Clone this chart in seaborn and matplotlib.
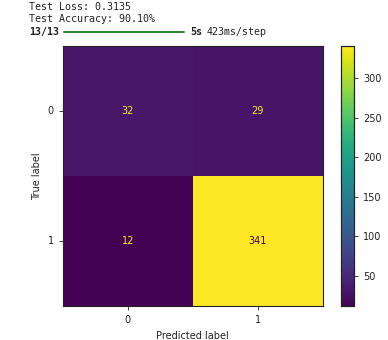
import matplotlib
matplotlib.use("Agg")
import matplotlib.pyplot as plt
from matplotlib.lines import Line2D
import seaborn as sns
import numpy as np
import pandas as pd

classes = ["0", "1"]
row0 = [32, 29]
row1 = [12, 341]
loss_text = "Test Loss: 0.3135"
acc_text = "Test Accuracy: 90.10%"
step_text = "13/13"
time_text = "5s"
rate_text = "423ms/step"
colorbar_ticks = [50, 100, 150, 200, 250, 300]

cm = np.array([row0, row1])
df = pd.DataFrame(cm, index=classes, columns=classes)

sns.set_style("white")
plt.rcParams['font.family'] = ['DejaVu Sans']

fig = plt.figure(figsize=(3.88, 3.40), dpi=100)
ax = fig.add_axes([0.162, 0.10, 0.670, 0.765])
cax = fig.add_axes([0.879, 0.10, 0.034, 0.765])

sns.heatmap(df, ax=ax, cbar_ax=cax, cmap="viridis", annot=True, fmt="d",
            vmin=cm.min(), vmax=cm.max(), square=False,
            annot_kws={"fontsize": 7})

cmap = plt.get_cmap("viridis")
thresh = (cm.max() + cm.min()) / 2.0
for t in ax.texts:
    v = int(t.get_text())
    t.set_color(cmap(1.0) if v < thresh else cmap(0.0))

for s in ax.spines.values():
    s.set_visible(True)
    s.set_color("#222222")
    s.set_linewidth(0.8)

ax.set_xlabel("Predicted label", fontsize=7, color="#222222")
ax.set_ylabel("True label", fontsize=7, color="#222222")
ax.tick_params(axis="both", which="both", length=3, width=0.6, labelsize=7,
               colors="#222222", left=True, bottom=True)
ax.set_yticklabels(classes, rotation=0)
ax.set_xticklabels(classes, rotation=0)

cax.set_yticks(colorbar_ticks)
cax.tick_params(labelsize=7, length=3, width=0.6, colors="#222222", right=True)
for s in cax.spines.values():
    s.set_visible(True)
    s.set_color("#222222")
    s.set_linewidth(0.8)

mono = {"family": "DejaVu Sans Mono", "fontsize": 7.2, "color": "#222222"}
fig.text(29/388, 1 - 7/340, loss_text, va="center", ha="left", **mono)
fig.text(29/388, 1 - 19.5/340, acc_text, va="center", ha="left", **mono)
fig.text(29/388, 1 - 32/340, step_text, va="center", ha="left", fontweight="bold", **mono)
fig.add_artist(Line2D([64/388, 184/388], [1 - 32/340, 1 - 32/340],
                      color="#1a7a1a", linewidth=1.3, transform=fig.transFigure))
fig.text(190/388, 1 - 32/340, time_text, va="center", ha="left", fontweight="bold", **mono)
fig.text(207/388, 1 - 32/340, rate_text, va="center", ha="left", **mono)

fig.savefig("out.png", dpi=100)
